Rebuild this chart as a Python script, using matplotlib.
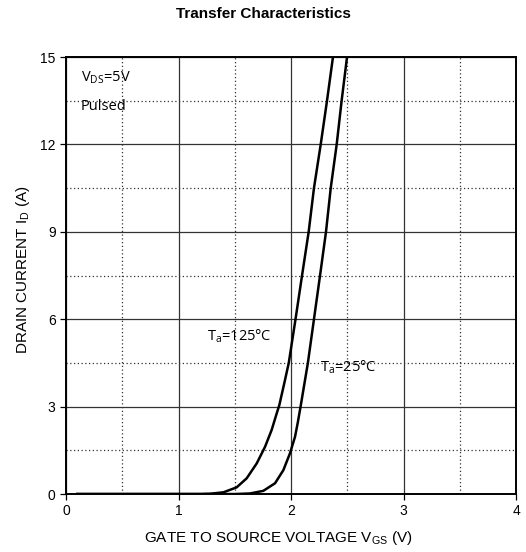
import numpy as np
import matplotlib.pyplot as plt
from matplotlib.ticker import MultipleLocator

vgs_125 = [0.1, 1.2, 1.28, 1.40, 1.517, 1.606, 1.695, 1.769, 1.828, 1.873, 1.896, 1.94,
           1.98, 2.04, 2.098, 2.157, 2.204, 2.264, 2.32, 2.373]
id_125 = [0, 0, 0.01, 0.06, 0.23, 0.54, 1.05, 1.62, 2.20, 2.77, 3.05, 3.8,
          4.5, 6.0, 7.5, 9.0, 10.5, 12.0, 13.5, 15.0]
vgs_25 = [0.1, 1.5, 1.636, 1.754, 1.858, 1.932, 1.991, 2.036, 2.06, 2.085, 2.15,
          2.204, 2.258, 2.311, 2.353, 2.406, 2.45, 2.498]
id_25 = [0, 0, 0.02, 0.11, 0.37, 0.82, 1.40, 1.97, 2.45, 3.0, 4.5,
         6.0, 7.5, 9.0, 10.5, 12.0, 13.5, 15.0]

plt.rcParams['mathtext.fontset'] = 'custom'
plt.rcParams['mathtext.rm'] = 'Open Sans'
plt.rcParams['mathtext.it'] = 'Open Sans'

fig = plt.figure(figsize=(5.26, 5.52), dpi=100)
ax = fig.add_axes([0.1255, 0.105, 0.8555, 0.7917])

ax.plot(vgs_125, id_125, color='black', lw=1.8, solid_joinstyle='round')
ax.plot(vgs_25, id_25, color='black', lw=1.8, solid_joinstyle='round')

ax.set_xlim(0, 4)
ax.set_ylim(0, 15)
ax.xaxis.set_major_locator(MultipleLocator(1))
ax.xaxis.set_minor_locator(MultipleLocator(0.5))
ax.yaxis.set_major_locator(MultipleLocator(3))
ax.yaxis.set_minor_locator(MultipleLocator(1.5))
ax.grid(which='major', color='#333333', lw=0.9, ls='-')
ax.grid(which='minor', color='#333333', lw=0.9, ls=(0, (1, 2)))
ax.tick_params(which='minor', length=0)
ax.tick_params(which='major', length=4, width=0.9, labelsize=10)
for lbl in ax.get_xticklabels() + ax.get_yticklabels():
    lbl.set_family('Liberation Sans')
for s in ax.spines.values():
    s.set_linewidth(1.4)

ax.set_xlabel(r'GATE TO SOURCE VOLTAGE V$_{\mathregular{GS}}$ (V)', family='Liberation Sans', fontsize=11)
ax.set_ylabel(r'DRAIN CURRENT I$_{\mathregular{D}}$ (A)', family='Liberation Sans', fontsize=11)
ax.xaxis.set_label_coords(0.471, -0.08)
ax.yaxis.set_label_coords(-0.075, 0.513)
fig.suptitle('Transfer Characteristics', family='Liberation Sans', fontweight='bold', fontsize=11, y=0.988)

ax.text(0.13, 14.3, r'V$_{\mathregular{DS}}$=5V', family='Open Sans', fontsize=10.5, va='center')
ax.text(0.13, 13.3, 'Pulsed', family='Open Sans', fontsize=10.5, va='center')
ax.text(1.25, 5.4, r'T$_{\mathregular{a}}$=125°C', family='Open Sans', fontsize=10.5, va='center')
ax.text(2.26, 4.35, r'T$_{\mathregular{a}}$=25°C', family='Open Sans', fontsize=10.5, va='center')

fig.savefig('out.png', dpi=100)
